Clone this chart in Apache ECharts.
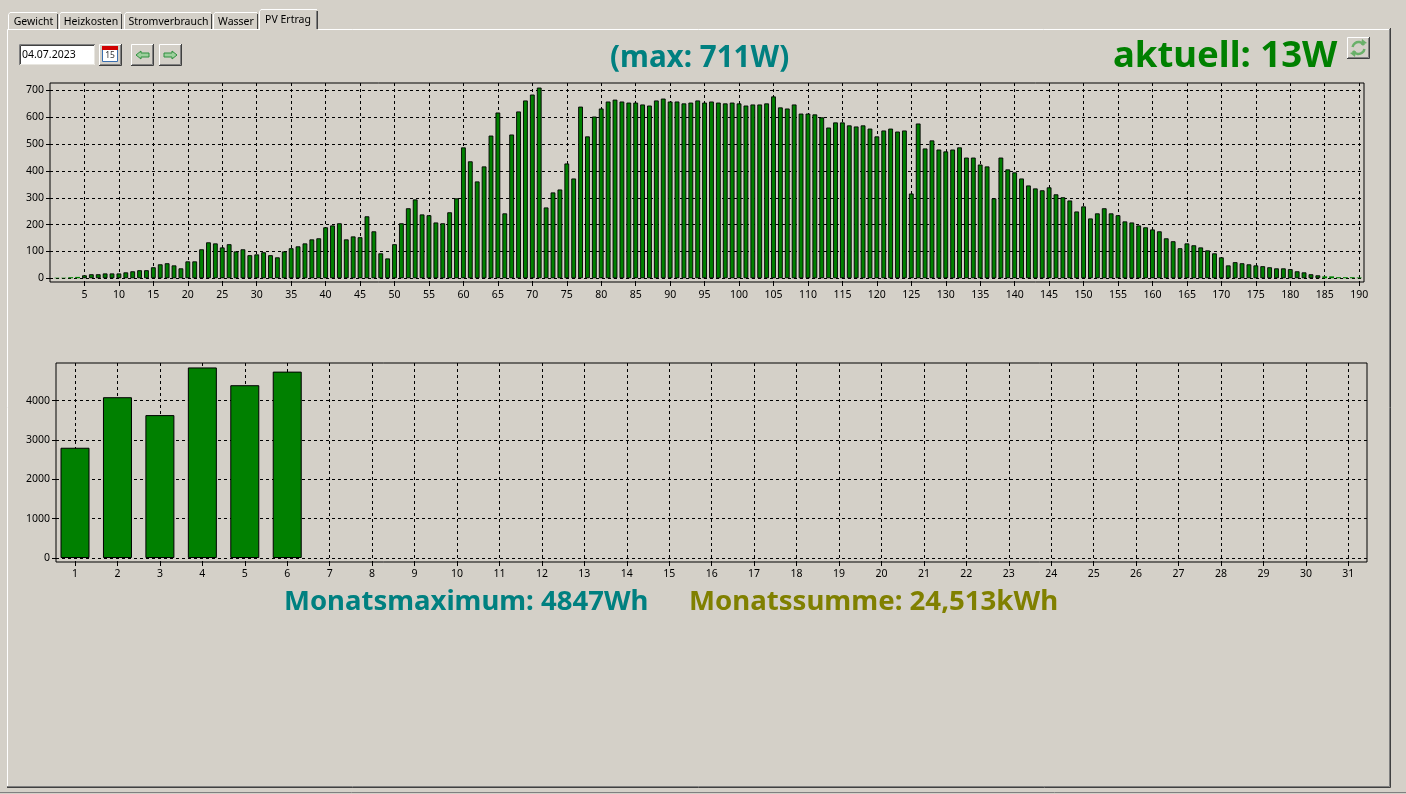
<!DOCTYPE html>
<html><head><meta charset="utf-8"><title>PV Ertrag</title>
<style>html,body{margin:0;padding:0;background:#d4d0c8;overflow:hidden}#c{width:1406px;height:794px}</style>
<script src="https://cdn.jsdelivr.net/npm/echarts@6/dist/echarts.min.js"></script></head>
<body><div id="c"></div>
<script>
const dayValues=[2,2,4,5,11,15,15,18,18,18,22,26,30,30,41,52,56,48,37,63,63,108,134,130,115,127,100,108,86,89,97,86,78,100,112,119,130,145,149,190,197,205,145,156,153,231,175,93,74,127,205,261,294,238,235,208,205,246,298,488,436,361,417,532,618,242,536,622,663,685,711,264,320,331,428,372,640,529,603,633,659,666,659,655,655,648,644,663,670,659,659,652,655,663,655,659,655,652,655,652,644,648,648,652,678,637,633,648,614,614,611,600,562,581,581,570,566,570,558,529,551,558,547,551,316,577,484,514,480,473,480,488,450,450,424,417,298,450,406,395,372,346,335,328,339,313,302,290,249,268,223,242,261,242,235,212,208,197,190,182,175,149,138,112,130,123,115,104,93,78,48,60,56,52,48,45,41,37,37,34,26,22,15,11,7,7,4,4,4,3];
const monthValues=[2805,4090,3635,4847,4395,4741];
const dayTicks=[];for(let i=5;i<=190;i+=5)dayTicks.push(i);
const dayValueTicks=[0,100,200,300,400,500,600,700];
const monthTicks=[];for(let i=1;i<=31;i++)monthTicks.push(i);
const monthValueTicks=[0,1000,2000,3000,4000];
const tabNames=["Gewicht","Heizkosten","Stromverbrauch","Wasser","PV Ertrag"];

const FONT='"Noto Sans"';
const BG='#d4d0c8',GREEN='#008000';
const dash={color:'#000',type:[3,3],width:1};
function ln(pts,color,w){return {type:'polyline',silent:true,shape:{points:pts},style:{stroke:color,lineWidth:w||1,fill:null}};}
function txt(x,y,t,size,opt){return {type:'text',silent:true,x,y,style:Object.assign({text:t,font:(size||10.5)+'px '+FONT,fill:'#000',textVerticalAlign:'middle'},opt||{})};}
function raised(x0,y0,x1,y1){return [
 {type:'rect',silent:true,shape:{x:x0,y:y0,width:x1-x0,height:y1-y0},style:{fill:BG}},
 ln([[x0+.5,y1],[x0+.5,y0+.5],[x1,y0+.5]],'#fff'),
 ln([[x1-.5,y0],[x1-.5,y1-.5],[x0,y1-.5]],'#404040'),
 ln([[x1-1.5,y0+1],[x1-1.5,y1-1.5],[x0+1,y1-1.5]],'#808080')];}
const g=[];
// panel
g.push(ln([[7.5,786],[7.5,29.5],[1389,29.5]],'#fff'));
g.push(ln([[1389.5,29],[1389.5,786.5],[7,786.5]],'#808080',1));
g.push(ln([[1390.5,28],[1390.5,787.5],[7,787.5]],'#404040',1));
g.push(ln([[0,792.5],[1406,792.5]],'#808080',1));
// tabs
const tabX=[[8,58],[59,122],[124,212],[213,258]];
tabX.forEach((t,i)=>{
 g.push(ln([[t[0]+.5,29],[t[0]+.5,14.5],[t[0]+2,12.5],[t[1]-1,12.5]],'#fff'));
 g.push(ln([[t[1]-.5,14],[t[1]-.5,29]],'#404040'));
 g.push(txt((t[0]+t[1])/2+.5,22.5,tabNames[i],10.5,{textAlign:'center'}));
});
g.push({type:'rect',silent:true,shape:{x:259,y:10,width:59,height:21},style:{fill:BG}});
g.push(ln([[259.5,30],[259.5,11.5],[261,9.5],[317,9.5]],'#fff'));
g.push(ln([[317.5,11],[317.5,29]],'#404040',1));
g.push(ln([[316.5,11],[316.5,29]],'#808080',1));
g.push(txt(288,20.5,tabNames[4],10.5,{textAlign:'center'}));
// date field
g.push({type:'rect',silent:true,shape:{x:19,y:44,width:76,height:21},style:{fill:'#fff'}});
g.push(ln([[19.5,65],[19.5,44.5],[95,44.5]],'#808080'));
g.push(ln([[20.5,64],[20.5,45.5],[94,45.5]],'#404040'));
g.push(ln([[94.5,45],[94.5,64.5],[20,64.5]],'#e8e6e0'));
g.push(txt(22,55.5,'04.07.2023',10.5));
// calendar button
raised(99,44,122,66).forEach(e=>g.push(e));
g.push({type:'rect',silent:true,shape:{x:102.5,y:49.5,width:15,height:12},style:{fill:'#fff',stroke:'#3a6fb0'}});
g.push({type:'rect',silent:true,shape:{x:102,y:46,width:16,height:4},style:{fill:'#d00000'}});
g.push(txt(110,56,'15',8.5,{textAlign:'center',fill:'#333'}));
// arrow buttons
raised(131,44,154,66).forEach(e=>g.push(e));
raised(159,44,182,66).forEach(e=>g.push(e));
const arrowL={type:'polygon',silent:true,shape:{points:[[136,55],[141,51],[141,53],[149,53],[149,57],[141,57],[141,59]]},style:{fill:'#9ccf9c',stroke:'#2f8f3f',lineWidth:1}};
const arrowR={type:'polygon',silent:true,shape:{points:[[177,55],[172,51],[172,53],[164,53],[164,57],[172,57],[172,59]]},style:{fill:'#9ccf9c',stroke:'#2f8f3f',lineWidth:1}};
g.push(arrowL,arrowR);
// refresh button
raised(1347,37,1370,59).forEach(e=>g.push(e));
g.push({type:'arc',silent:true,shape:{cx:1358.5,cy:48,r:6,startAngle:Math.PI*1.05,endAngle:Math.PI*1.85},style:{stroke:'#69b069',lineWidth:2.5,fill:null}});
g.push({type:'arc',silent:true,shape:{cx:1358.5,cy:48,r:6,startAngle:Math.PI*0.05,endAngle:Math.PI*0.85},style:{stroke:'#69b069',lineWidth:2.5,fill:null}});
g.push({type:'polygon',silent:true,shape:{points:[[1362,39],[1367,43],[1361,45]]},style:{fill:'#69b069'}});
g.push({type:'polygon',silent:true,shape:{points:[[1355,57],[1350,53],[1356,51]]},style:{fill:'#69b069'}});

const plain=v=>String(v);
function axisTick(vals){return {show:true,inside:false,length:4,customValues:vals,lineStyle:{color:'#000',width:1}};}
function axisLabel(vals,m,extra){return Object.assign({show:true,customValues:vals,margin:m,color:'#000',fontFamily:FONT,fontSize:10.5,formatter:plain},extra||{});}
function xA(i,min,max,vals,m){return {type:'value',gridIndex:i,min,max,position:'bottom',axisLine:{show:false,onZero:false},axisTick:axisTick(vals),axisLabel:axisLabel(vals,m),splitLine:{show:true,lineStyle:dash}};}
function yA(i,min,max,vals){return {type:'value',gridIndex:i,min,max,axisLine:{show:false,onZero:false},axisTick:axisTick(vals),axisLabel:axisLabel(vals,6,{padding:[2,0,0,0]}),splitLine:{show:true,lineStyle:dash}};}
function grid(l,t,r,b){return {show:true,left:l,top:t,width:r-l,height:b-t,borderColor:'#000',borderWidth:1,backgroundColor:'transparent',containLabel:false};}
const ti=(t,x,y,size,color)=>({text:t,left:x,top:y,padding:0,textStyle:{color,fontFamily:FONT,fontWeight:'bold',fontSize:size}});

const chart=echarts.init(document.getElementById('c'),null,{renderer:'canvas'});
chart.setOption({
 animation:false,backgroundColor:BG,
 title:[ti('(max: 711W)',610,43.5,29.6,'#008080'),ti('aktuell: 13W',1113,38.5,36.5,GREEN),ti('Monatsmaximum: 4847Wh',284,588,27.5,'#008080'),ti('Monatssumme: 24,513kWh',689,588,27.6,'#808000')],
 grid:[grid(50,83,1364,282),grid(56,363,1367,562)],
 xAxis:[xA(0,0,190.7,dayTicks,8),xA(1,0.552,31.44,monthTicks,7)],
 yAxis:[yA(0,-14,728,dayValueTicks),yA(1,-101,4960,monthValueTicks)],
 series:[
  {type:'bar',xAxisIndex:0,yAxisIndex:0,barWidth:4.8,z:3,data:dayValues.map((v,i)=>({value:[i+1,v],itemStyle:v<9?{borderWidth:0}:{}})),itemStyle:{color:GREEN,borderColor:'#000',borderWidth:0.9}},
  {type:'bar',xAxisIndex:1,yAxisIndex:1,barWidth:29,z:3,data:monthValues.map((v,i)=>[i+1,v]),itemStyle:{color:GREEN,borderColor:'#000',borderWidth:1}}
 ],
 graphic:{elements:g}
});
</script></body></html>
